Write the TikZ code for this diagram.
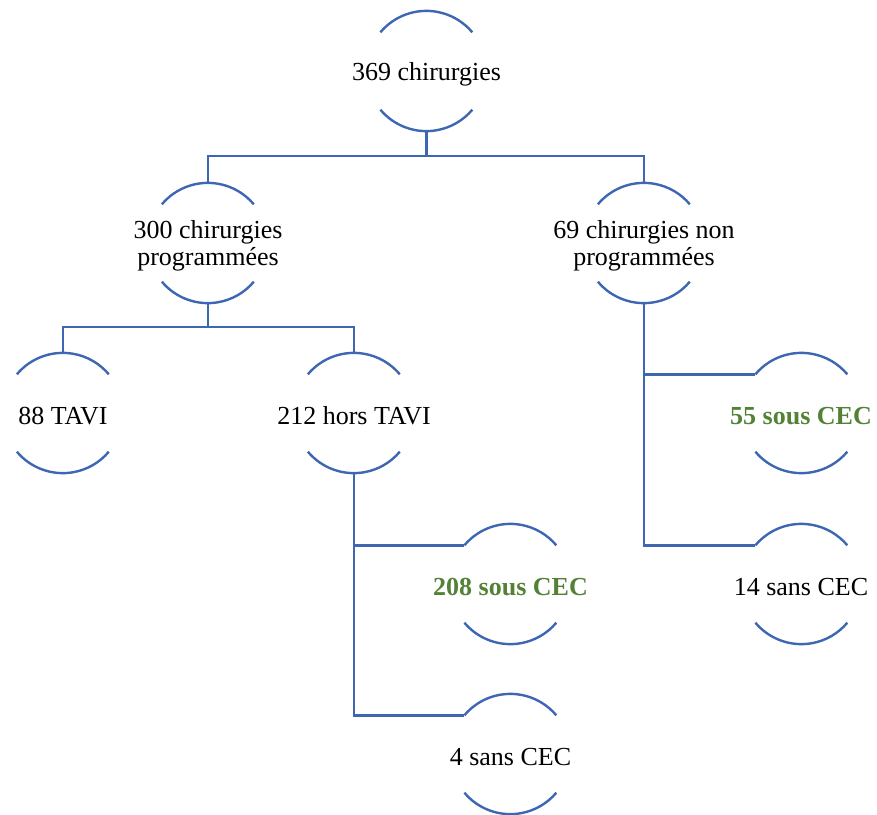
\documentclass[tikz,border=0pt]{standalone}
\usepackage{fontspec}
\setmainfont{Liberation Serif}
\definecolor{lineblue}{RGB}{62,102,178}
\definecolor{cecgreen}{RGB}{83,129,53}
\tikzset{
  x=1pt, y=-1pt,
  circ/.style={circle, minimum size=120pt, inner sep=0pt, draw=none},
  txt/.style={align=center, inner sep=0pt, yshift=-3pt, font=\fontsize{26}{27}\selectfont},
  greentxt/.style={txt, text=cecgreen, font=\fontsize{26}{27}\selectfont\bfseries},
  conn/.style={draw=lineblue, line width=2.4pt},
  arcs/.style={draw=lineblue, line width=2.4pt}
}
\newcommand{\halfarcs}[1]{%
  \draw[arcs] (#1.140) arc[start angle=140, end angle=40, radius=60pt];
  \draw[arcs] (#1.220) arc[start angle=220, end angle=320, radius=60pt];
}
\begin{document}
\begin{tikzpicture}
\useasboundingbox (0,0) rectangle (877,814);
% circles
\node[circ] (root) at (426.5,71) {};
\node[circ] (A) at (208,243) {};
\node[circ] (B) at (644,243) {};
\node[circ] (C) at (63,413) {};
\node[circ] (D) at (354,413) {};
\node[circ] (E) at (510.5,584) {};
\node[circ] (F) at (510.5,754) {};
\node[circ] (G) at (801.5,413) {};
\node[circ] (H) at (801.5,584) {};
\foreach \n in {root,A,B,C,D,E,F,G,H} {\halfarcs{\n}}
% texts
\node[txt] (roott) at (root) {369 chirurgies};
\node[txt] (At) at (A) {300 chirurgies\\programmées};
\node[txt] (Bt) at (B) {69 chirurgies non\\programmées};
\node[txt] (Ct) at (C) {88 TAVI};
\node[txt] (Dt) at (D) {212 hors TAVI};
\node[greentxt] (Et) at (E) {208 sous CEC};
\node[txt] (Ft) at (F) {4 sans CEC};
\node[greentxt] (Gt) at (801,413) {55 sous CEC};
\node[txt] (Ht) at (801,584) {14 sans CEC};
% connectors
\draw[conn] (root.south) -- ++(0,25) -| (A.north);
\draw[conn] (root.south) -- ++(0,25) -| (B.north);
\draw[conn] (A.south) -- ++(0,24) -| (C.north);
\draw[conn] (A.south) -- ++(0,24) -| (D.north);
\draw[conn] (D.south) |- (E.140);
\draw[conn] (D.south) |- (F.140);
\draw[conn] (B.south) |- (G.140);
\draw[conn] (B.south) |- (H.140);
\end{tikzpicture}
\end{document}
